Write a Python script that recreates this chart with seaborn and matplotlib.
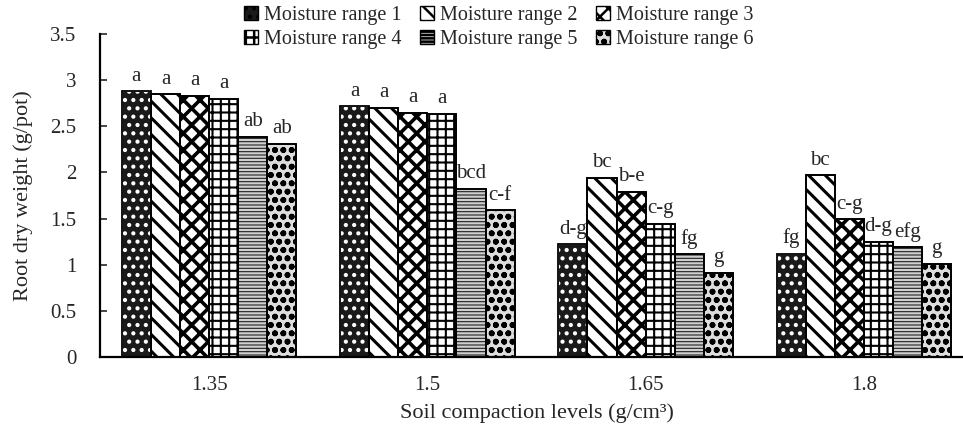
import pandas as pd
import seaborn as sns
import matplotlib.pyplot as plt
from matplotlib.patches import Rectangle

# %% Data
levels = ["1.35", "1.5", "1.65", "1.8"]
ranges = ["Moisture range 1", "Moisture range 2", "Moisture range 3",
          "Moisture range 4", "Moisture range 5", "Moisture range 6"]
weights = {
    "Moisture range 1": [2.88, 2.72, 1.22, 1.12],
    "Moisture range 2": [2.85, 2.70, 1.94, 1.97],
    "Moisture range 3": [2.83, 2.65, 1.79, 1.49],
    "Moisture range 4": [2.80, 2.64, 1.44, 1.25],
    "Moisture range 5": [2.39, 1.82, 1.11, 1.19],
    "Moisture range 6": [2.31, 1.59, 0.91, 1.01],
}
letters = {
    "Moisture range 1": ["a", "a", "d-g", "fg"],
    "Moisture range 2": ["a", "a", "bc", "bc"],
    "Moisture range 3": ["a", "a", "b-e", "c-g"],
    "Moisture range 4": ["a", "a", "c-g", "d-g"],
    "Moisture range 5": ["ab", "bcd", "fg", "efg"],
    "Moisture range 6": ["ab", "c-f", "g", "g"],
}

rows = []
for r in ranges:
    for lv, w in zip(levels, weights[r]):
        rows.append({"level": lv, "range": r, "weight": w})
df = pd.DataFrame(rows)

# %% Plot
sns.set_style("white")
plt.rcParams["font.family"] = ["Liberation Serif", "DejaVu Serif"]
plt.rcParams["hatch.linewidth"] = 1.8

fig = plt.figure(figsize=(9.63, 4.29), dpi=100)
ax = fig.add_axes([100 / 963, 72.3 / 429, 873 / 963, 322.4 / 429])

sns.barplot(data=df, x="level", y="weight", hue="range", order=levels,
            hue_order=ranges, errorbar=None, width=0.8, legend=False, ax=ax)

# face, hatch, hatch colour, hatch width per moisture range
styles = [
    ("#1a1a1a", "..", "white", 1.8),
    ("white", "\\\\", "black", 2.2),
    ("white", "xx", "black", 2.6),
    ("white", "++", "black", 1.5),
    ("#cfcfcf", "-----", "#222222", 0.8),
    ("#dddddd", "oo", "black", 1.8),
]

handles = []
for cont, (fc, hatch, hc, hw), r in zip(ax.containers, styles, ranges):
    for bar, lab in zip(cont.patches, letters[r]):
        bar.set_facecolor(fc)
        bar.set_hatch(hatch)
        if hasattr(bar, "set_hatchcolor"):
            bar.set_edgecolor("black")
            bar.set_hatchcolor(hc)
        else:
            bar.set_edgecolor(hc)
        if hasattr(bar, "set_hatch_linewidth"):
            bar.set_hatch_linewidth(hw)
        bar.set_linewidth(1.2)
        # black outline on top
        ax.add_patch(Rectangle(bar.get_xy(), bar.get_width(), bar.get_height(),
                               fill=False, edgecolor="black", linewidth=1.3,
                               zorder=bar.get_zorder() + 0.1))
        ax.annotate(lab, (bar.get_x() + bar.get_width() / 2, bar.get_height()),
                    xytext=(0, 4), textcoords="offset points",
                    ha="center", va="bottom", fontsize=15)
    h = Rectangle((0, 0), 1, 1, facecolor=fc, hatch=hatch,
                  edgecolor="black", linewidth=1.0)
    if hasattr(h, "set_hatchcolor"):
        h.set_hatchcolor(hc)
    if hasattr(h, "set_hatch_linewidth"):
        h.set_hatch_linewidth(min(hw, 1.5))
    handles.append(h)

ax.set_ylim(0, 3.5)
ax.set_yticks([0, 0.5, 1, 1.5, 2, 2.5, 3, 3.5])
ax.set_yticklabels(["0", "0.5", "1", "1.5", "2", "2.5", "3", "3.5"])
ax.set_xlim(-0.5, 3.5)
ax.set_xticks([-0.5, 0.5, 1.5, 2.5, 3.5], minor=True)
ax.tick_params(axis="x", which="major", length=0, pad=14, labelsize=15)
ax.tick_params(axis="x", which="minor", direction="in", length=5, width=1.2)
ax.tick_params(axis="y", direction="in", length=5, width=1.2, labelsize=15,
               pad=17, left=True)

for s in ["top", "right"]:
    ax.spines[s].set_visible(False)
for s in ["left", "bottom"]:
    ax.spines[s].set_color("black")
    ax.spines[s].set_linewidth(1.6)

ax.set_ylabel("Root dry weight (g/pot)", fontsize=16, labelpad=12)
ax.set_xlabel("Soil compaction levels (g/cm³)", fontsize=16, labelpad=6)

# row-major legend order (matplotlib fills columns first)
order = [0, 3, 1, 4, 2, 5]
fig.legend(handles=[handles[i] for i in order],
           labels=[ranges[i] for i in order], ncol=3, frameon=False,
           loc="upper center", bbox_to_anchor=(0.518, 1.028), fontsize=14.5,
           handlelength=0.7, handleheight=0.7, handletextpad=0.3,
           columnspacing=0.9, labelspacing=0.25)

fig.savefig("out.png", dpi=100)
